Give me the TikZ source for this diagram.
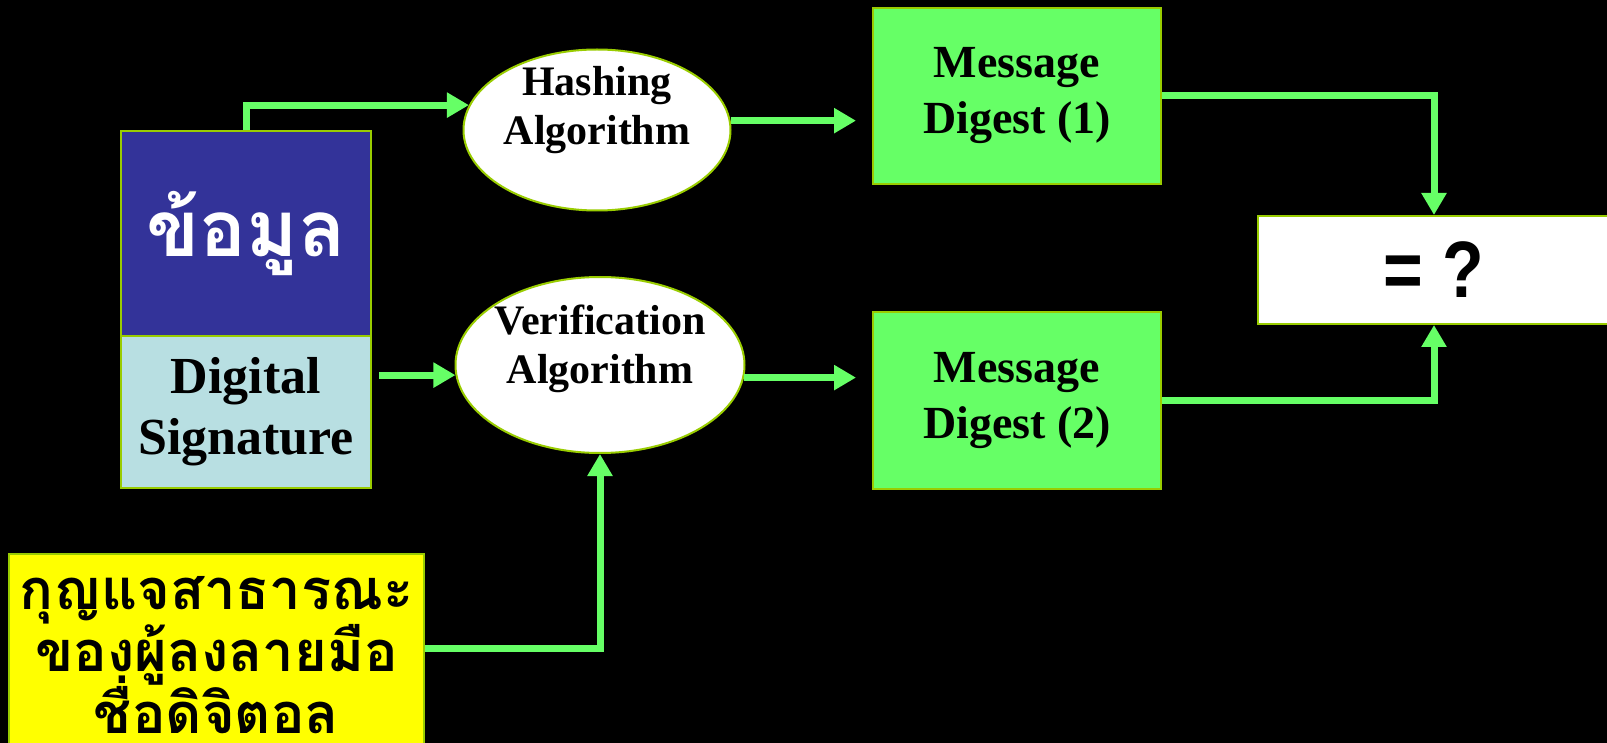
\documentclass[tikz,border=0pt]{standalone}
\usepackage{fontspec}
\setmainfont{Liberation Serif}
\newfontfamily\thaifont[Script=Thai]{Loma}
\newfontfamily\eqfont[FakeStretch=0.85]{Liberation Sans}
\usetikzlibrary{shapes.geometric,arrows.meta}

\definecolor{edge}{HTML}{99CC00}
\definecolor{link}{HTML}{66FF66}
\definecolor{datafill}{HTML}{333399}
\definecolor{sigfill}{HTML}{B8DFE2}
\definecolor{digestfill}{HTML}{66FF66}
\definecolor{keyfill}{HTML}{FFFF00}

\begin{document}
\begin{tikzpicture}[x=1pt,y=-1pt]
        \tikzstyle{box}=[draw=edge,line width=2pt,inner sep=0pt,align=center]
        \tikzstyle{oval}=[ellipse,draw=edge,line width=2pt,fill=white,inner sep=0pt]
        \tikzstyle{ovaltext}=[align=center,yshift=16pt,font=\bfseries\fontsize{42}{49}\selectfont]
        \tikzstyle{digest}=[box,fill=digestfill,minimum width=288pt,minimum height=176pt,font=\bfseries\fontsize{46}{56}\selectfont]
        \tikzstyle{arr}=[draw=link,line width=7pt,-{Triangle[length=22pt,width=24pt]}]

        \useasboundingbox (0,0) rectangle (1607,743);
        \fill[black] (0,0) rectangle (1607,743);
        \clip (0,0) rectangle (1607,743);

        % message and signature
        \node[box,fill=datafill,minimum width=250pt,minimum height=205pt,text=white,
              font=\thaifont\bfseries\fontsize{78}{84}\selectfont] (data) at (246,233.5) {ข้อมูล};
        \node[box,fill=sigfill,minimum width=250pt,minimum height=152pt,
              font=\bfseries\fontsize{52}{61}\selectfont] (sig) at (246,412) {Digital\\Signature};

        % algorithms
        \node[oval,minimum width=267pt,minimum height=161pt,
              label={[ovaltext,yshift=4pt]center:Hashing\\Algorithm}] (hash) at (597,130) {};
        \node[oval,minimum width=289pt,minimum height=176pt,
              label={[ovaltext]center:Verification\\Algorithm}] (verify) at (600,365) {};

        % digests
        \node[digest] (md1) at (1017,96) {Message\\Digest (1)};
        \node[digest] (md2) at (1017,400.5) {Message\\Digest (2)};

        \node[box,fill=white,minimum width=352pt,minimum height=108pt,
              font=\eqfont\bfseries\fontsize{80}{90}\selectfont] (eq) at (1434,270) {= ?};

        % public key
        \node[box,fill=keyfill,minimum width=415pt,minimum height=202pt,
              font={\thaifont\bfseries\fontsize{56}{62}\selectfont\lineskiplimit=-100pt\relax}] (key) at (216.5,655)
              {กุญแจสาธารณะ\\ของผู้ลงลายมือ\\ชื่อดิจิตอล};

        \draw[arr] (data.north) |- (hash.169);
        \draw[arr,shorten <=7pt] (sig.east |- verify.184) -- (verify.184);
        \draw[arr,shorten >=16pt] (hash.4) -- (hash.4 -| md1.west);
        \draw[arr,shorten >=16pt] (verify.355) -- (verify.355 -| md2.west);
        \draw[arr] (md1.east) -| (eq.north);
        \draw[arr] (md2.east) -| (eq.south);
        \draw[arr] (key.east |- 0,648) -| (verify.south);
\end{tikzpicture}
\end{document}
